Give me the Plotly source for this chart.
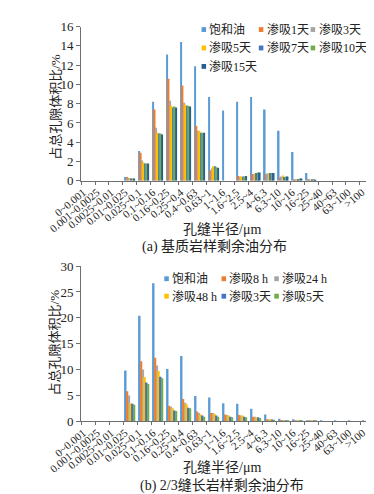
import plotly.graph_objects as go

W, H = 374, 494

categories = ["0~0.001", "0.001~0.0025", "0.0025~0.01", "0.01~0.025", "0.025~0.1",
              "0.1~0.16", "0.16~0.25", "0.25~0.4", "0.4~0.63", "0.63~1", "1~1.6",
              "1.6~2.5", "2.5~4", "4~6.3", "6.3~10", "10~16", "16~25", "25~40",
              "40~63", "63~100", ">100"]

# (a) matrix rock sample
names_a = ["饱和油", "渗吸1天", "渗吸3天", "渗吸5天", "渗吸7天", "渗吸10天", "渗吸15天"]
a_saturated = [0, 0, 0, 0.4, 3.1, 8.2, 13.1, 14.4, 11.9, 8.7, 7.3, 8.2, 8.7, 7.4, 5.2, 3.0, 0.8, 0, 0, 0, 0]
a_day1 = [0, 0, 0, 0.4, 2.9, 7.4, 10.6, 9.9, 5.7, 1.1, 0, 0.5, 0.7, 0.7, 0.35, 0.15, 0.15, 0, 0, 0, 0]
a_day3 = [0, 0, 0, 0.3, 2.1, 5.5, 8.3, 8.1, 5.2, 1.3, 0, 0.45, 0.7, 0.75, 0.45, 0.15, 0.15, 0, 0, 0, 0]
a_day5 = [0, 0, 0, 0.3, 1.9, 5.0, 7.8, 7.9, 5.2, 1.5, 0, 0.45, 0.75, 0.8, 0.55, 0.2, 0.1, 0, 0, 0, 0]
a_day7 = [0, 0, 0, 0.25, 1.8, 4.9, 7.6, 7.8, 5.0, 1.5, 0, 0.45, 0.8, 0.8, 0.4, 0.2, 0.15, 0, 0, 0, 0]
a_day10 = [0, 0, 0, 0.25, 1.8, 4.9, 7.7, 7.8, 5.0, 1.4, 0, 0.45, 0.85, 0.8, 0.45, 0.25, 0.15, 0, 0, 0, 0]
a_day15 = [0, 0, 0, 0.25, 1.8, 4.8, 7.6, 7.7, 5.0, 1.35, 0, 0.5, 0.85, 0.8, 0.45, 0.25, 0.1, 0, 0, 0, 0]
series_a = [a_saturated, a_day1, a_day3, a_day5, a_day7, a_day10, a_day15]
colors_a = ["#5B9BD5", "#ED7D31", "#A5A5A5", "#FFC000", "#4472C4", "#70AD47", "#255E91"]

# (b) 2/3 fracture length sample
names_b = ["饱和油", "渗吸8 h", "渗吸24 h", "渗吸48 h", "渗吸3天", "渗吸5天"]
b_saturated = [0, 0, 0, 9.8, 20.4, 26.7, 10.1, 12.6, 4.9, 4.6, 3.5, 3.4, 2.4, 1.3, 0.5, 0.4, 0.2, 0.1, 0.1, 0.1, 0.1]
b_h8 = [0, 0, 0, 5.8, 11.6, 12.3, 3.0, 4.3, 1.9, 1.6, 1.3, 1.2, 0.9, 0.4, 0.25, 0.2, 0.1, 0, 0, 0, 0]
b_h24 = [0, 0, 0, 5.0, 10.0, 10.8, 2.8, 3.6, 1.6, 1.6, 1.2, 1.1, 0.9, 0.4, 0.25, 0.15, 0.1, 0, 0, 0, 0]
b_h48 = [0, 0, 0, 3.5, 8.5, 9.7, 2.5, 3.3, 1.3, 1.4, 1.1, 1.1, 0.8, 0.4, 0.2, 0.15, 0.1, 0, 0, 0, 0]
b_day3 = [0, 0, 0, 3.4, 7.5, 8.6, 2.1, 2.6, 1.1, 1.1, 0.9, 0.9, 0.8, 0.35, 0.2, 0.1, 0.1, 0, 0, 0, 0]
b_day5 = [0, 0, 0, 3.2, 7.2, 8.3, 2.0, 2.5, 0.9, 0.9, 0.8, 0.8, 0.65, 0.3, 0.15, 0.1, 0.05, 0, 0, 0, 0]
series_b = [b_saturated, b_h8, b_h24, b_h48, b_day3, b_day5]
colors_b = ["#5B9BD5", "#ED7D31", "#A5A5A5", "#FFC000", "#4472C4", "#70AD47"]

y_title = "占总孔隙体积比/%"
x_title = "孔缝半径/μm"
caption_a = "(a) 基质岩样剩余油分布"
caption_b = "(b) 2/3缝长岩样剩余油分布"

FONT = "Liberation Serif, Noto Sans CJK SC, serif"
TXT = "#222222"
AX = "#6f6f6f"


def px(x):
    return x / W


def py(y):
    return 1 - y / H


fig = go.Figure()
for name, vals, col in zip(names_a, series_a, colors_a):
    fig.add_trace(go.Bar(x=categories, y=vals, name=name, marker=dict(color=col, line=dict(width=0)),
                         xaxis="x", yaxis="y", offsetgroup=name + "a", showlegend=False))
for name, vals, col in zip(names_b, series_b, colors_b):
    fig.add_trace(go.Bar(x=categories, y=vals, name=name, marker=dict(color=col, line=dict(width=0)),
                         xaxis="x2", yaxis="y2", offsetgroup=name + "b", showlegend=False))

xcommon = dict(type="category", showline=True, linecolor=AX, linewidth=1, ticks="outside",
               tickson="boundaries", ticklen=3, tickcolor=AX, tickangle=-40, ticklabelshift=-5,
               tickfont=dict(size=11, family=FONT, color=TXT), showgrid=False, zeroline=False)
ycommon = dict(showline=True, linecolor=AX, linewidth=1, ticks="outside", ticklen=4, tickcolor=AX,
               tickfont=dict(size=13, family=FONT, color=TXT), showgrid=False, zeroline=False)

fig.update_layout(
    width=W, height=H, margin=dict(l=0, r=0, t=0, b=0),
    paper_bgcolor="white", plot_bgcolor="white",
    barmode="group", bargap=0.25, bargroupgap=0,
    showlegend=False,
    font=dict(family=FONT, color=TXT),
    xaxis=dict(domain=[px(43), px(365)], anchor="y", **xcommon),
    yaxis=dict(domain=[py(171), py(12)], anchor="x", range=[0, 16], dtick=2, **ycommon),
    xaxis2=dict(domain=[px(43), px(366)], anchor="y2", **xcommon),
    yaxis2=dict(domain=[py(419), py(259)], anchor="x2", range=[0, 30], dtick=5, **ycommon),
)

ann = []
shapes = []


def add_text(text, x, y, size, angle=0, xanchor="center"):
    ann.append(dict(text=text, x=px(x), y=py(y), xref="paper", yref="paper", showarrow=False,
                    textangle=angle, xanchor=xanchor, yanchor="middle",
                    font=dict(size=size, family=FONT, color=TXT)))


add_text(y_title, 14, 95, 13, angle=-90)
add_text(y_title, 14, 338, 13, angle=-90)
add_text(x_title, 198, 221, 14)
add_text(caption_a, 190, 239, 14)
add_text(x_title, 198, 467, 14)
add_text(caption_b, 198, 485, 14)


def legend(names, colors, cols_x, rows_y):
    for i, (n, c) in enumerate(zip(names, colors)):
        cx = cols_x[i % 3]
        cy = rows_y[i // 3]
        shapes.append(dict(type="rect", xref="paper", yref="paper",
                           x0=px(cx - 2.5), x1=px(cx + 2.5), y0=py(cy + 2.5), y1=py(cy - 2.5),
                           fillcolor=c, line=dict(width=0)))
        add_text(n, cx + 4, cy, 12, xanchor="left")


legend(names_a, colors_a, [178, 241, 298], [15, 34, 53])
legend(names_b, colors_b, [137, 200, 258], [272, 290])

fig.update_layout(annotations=ann, shapes=shapes)
fig.write_html("out.html")
